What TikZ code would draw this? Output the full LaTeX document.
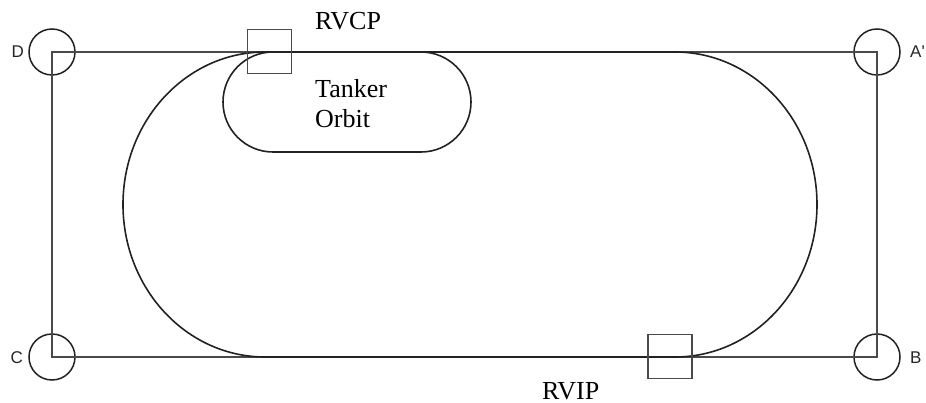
\documentclass[tikz,border=0pt]{standalone}
\usepackage{fontspec}
\setmainfont{Liberation Serif}
\newfontfamily\lsans{Liberation Sans}
\definecolor{linegray}{HTML}{4A4A4A}
\definecolor{curvegray}{HTML}{222222}
\begin{document}
\begin{tikzpicture}[x=1pt,y=-1pt,
  corner/.style={circle,draw=curvegray,line width=1.5pt,minimum size=46pt,inner sep=0pt},
  pointbox/.style={rectangle,draw=linegray,line width=1.5pt,minimum size=44pt,inner sep=0pt},
  frame/.style={draw=linegray,line width=1.8pt},
  track/.style={draw=curvegray,line width=1.6pt},
  cornerlabel/.style={inner sep=0pt,font=\lsans\fontsize{17}{20}\selectfont,text=black!85},
  serlabel/.style={inner sep=0pt,font=\fontsize{26}{30}\selectfont}]
\useasboundingbox (0,0) rectangle (926,403);
% corner circles
\node[corner] (D) at (52,52) {};
\node[corner] (A) at (877,52) {};
\node[corner] (C) at (52,357) {};
\node[corner] (B) at (877,357) {};
% rectangle
\draw[frame] (D.center) -- (A.center) -- (B.center) -- (C.center) -- cycle;
% outer track
\coordinate (tl) at (265,52);
\coordinate (br) at (675,357);
\draw[track] (tl) arc[start angle=-90,end angle=-270,x radius=142,y radius=152.5]
  -- (br) arc[start angle=90,end angle=-90,x radius=142,y radius=152.5] -- cycle;
% tanker orbit
\coordinate (ot) at (273,52);
\draw[track] (ot) -- (421,52) arc[start angle=-90,end angle=90,radius=50]
  -- (273,152) arc[start angle=90,end angle=270,radius=50] -- cycle;
% squares
\node[pointbox] (RVCP) at (269.5,51.5) {};
\node[pointbox] (RVIP) at (670,356.5) {};
% labels
\node[cornerlabel,anchor=base east] (Dl) at (24,58) {D};
\node[cornerlabel,anchor=base west] (Al) at (910,58) {A'};
\node[cornerlabel,anchor=base east] (Cl) at (23,363) {C};
\node[cornerlabel,anchor=base west] (Bl) at (910,363) {B};
\node[serlabel,anchor=base west] (RVCPl) at (315,30) {RVCP};
\node[serlabel,anchor=base west] (RVIPl) at (542,399) {RVIP};
\node[serlabel,anchor=base west] (Tk) at (315,98) {Tanker};
\node[serlabel,anchor=base west] (Ob) at (315,128) {Orbit};
\end{tikzpicture}
\end{document}
